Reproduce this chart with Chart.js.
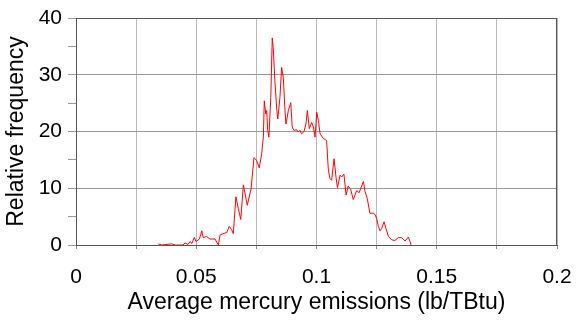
<!DOCTYPE html>
<html>
<head>
<meta charset="utf-8">
<script src="https://cdn.jsdelivr.net/npm/chart.js@4"></script>
<style>
  body { margin: 0; background: #fff; }
</style>
</head>
<body>
<canvas id="grafico" width="577" height="322"></canvas>
<script>
/* Dados */

const emissao = [
  0.0342, 0.0356, 0.0398, 0.0412, 0.0445, 0.0453, 0.0466, 0.0474, 0.0482, 0.0492,
  0.0499, 0.0513, 0.0523, 0.0529, 0.0543, 0.0557, 0.0578, 0.0592, 0.0599, 0.0612,
  0.0627, 0.0637, 0.0647, 0.0654, 0.0665, 0.0675, 0.0685, 0.0696, 0.0712, 0.0728,
  0.0740, 0.0751, 0.0762, 0.0772, 0.0779, 0.0783, 0.0789, 0.0793, 0.0797, 0.0802,
  0.0810, 0.0816, 0.0820, 0.0827, 0.0835, 0.0839, 0.0848, 0.0855, 0.0862, 0.0869,
  0.0873, 0.0883, 0.0893, 0.0899, 0.0906, 0.0918, 0.0924, 0.0931, 0.0938, 0.0948,
  0.0956, 0.0962, 0.0970, 0.0980, 0.0987, 0.0994, 0.1001, 0.1008, 0.1015, 0.1028,
  0.1042, 0.1049, 0.1056, 0.1063, 0.1073, 0.1081, 0.1087, 0.1098, 0.1105, 0.1114,
  0.1123, 0.1132, 0.1142, 0.1153, 0.1167, 0.1177, 0.1195, 0.1202, 0.1211, 0.1222,
  0.1236, 0.1243, 0.1250, 0.1257, 0.1264, 0.1271, 0.1281, 0.1289, 0.1299, 0.1313,
  0.1326, 0.1340, 0.1354, 0.1368, 0.1382, 0.1389, 0.1393
];
const frequencia = [
  0.2, 0, 0.2, 0, 0, 0.35, 0.1, 0.6, 0.3, 1.35,
  0.6, 1.05, 2.5, 1.3, 1.5, 1.05, 1.05, 0, 1.75, 2.0,
  2.2, 3.3, 2.7, 2.0, 8.5, 6.4, 4.5, 10.6, 7.0, 9.9,
  15.4, 14.9, 13.6, 16.1, 19.0, 25.4, 23.1, 23.7, 20.2, 19.0,
  26.0, 36.5, 34.8, 28.9, 23.7, 22.2, 26.0, 31.3, 29.5, 23.7,
  21.3, 23.7, 25.1, 20.8, 20.2, 20.3, 19.9, 20.2, 19.6, 20.0,
  21.3, 23.7, 20.5, 21.6, 20.8, 19.0, 23.4, 21.9, 19.6, 18.8,
  18.4, 13.4, 11.7, 11.4, 15.2, 12.0, 10.1, 12.3, 12.0, 12.5,
  8.8, 10.4, 9.8, 8.0, 9.6, 9.2, 11.2, 9.4, 8.2, 5.6,
  5.6, 5.4, 4.7, 3.3, 2.5, 2.9, 4.1, 2.9, 1.5, 0.9,
  0.8, 1.3, 1.3, 0.7, 1.4, 0.6, 0
];

const eixoX = [0, 0.05, 0.1, 0.15, 0.2];
const eixoY = [0, 10, 20, 30, 40];

/* Gráfico */

Chart.defaults.font.family = "'Liberation Sans', Arial, sans-serif";
Chart.defaults.font.size = 21;
Chart.defaults.color = "#000";

const pontos = emissao.map((x, i) => ({ x: x, y: frequencia[i] }));

// moldura de cima e da direita
const moldura = {
  id: "moldura",
  afterDatasetsDraw(chart) {
    const a = chart.chartArea;
    const ctx = chart.ctx;
    ctx.save();
    ctx.strokeStyle = "#555";
    ctx.lineWidth = 1;
    ctx.beginPath();
    ctx.moveTo(a.left, a.top + 0.5);
    ctx.lineTo(a.right - 0.5, a.top + 0.5);
    ctx.lineTo(a.right - 0.5, a.bottom);
    ctx.stroke();
    ctx.restore();
  },
};

const config = {
  type: "line",
  data: {
    datasets: [
      {
        data: pontos,
        borderColor: "rgb(255, 0, 0)",
        borderWidth: 1,
        pointRadius: 0,
        tension: 0,
        fill: false,
      },
    ],
  },
  options: {
    responsive: false,
    animation: false,
    layout: { padding: { left: 0, right: 20, top: 18, bottom: 0 } },
    plugins: {
      legend: { display: false },
      tooltip: { enabled: false },
    },
    scales: {
      x: {
        type: "linear",
        min: eixoX[0],
        max: eixoX[eixoX.length - 1],
        afterFit(scale) {
          scale.height = 77;
          scale.paddingLeft = 0;
          scale.paddingRight = 0;
        },
        ticks: {
          stepSize: 0.025,
          maxRotation: 0,
          padding: 16,
          callback: (v) => {
            const r = +v.toFixed(3);
            return eixoX.includes(r) ? String(r) : "";
          },
        },
        grid: { color: "#b8b8b8", tickColor: "#888", tickLength: 4 },
        border: { color: "#555" },
        title: {
          display: true,
          text: "Average mercury emissions (lb/TBtu)",
          font: { size: 23 },
          padding: { top: 0, bottom: 6 },
        },
      },
      y: {
        min: eixoY[0],
        max: eixoY[eixoY.length - 1],
        afterFit(scale) {
          scale.width = 76;
          scale.paddingTop = 0;
          scale.paddingBottom = 0;
        },
        ticks: {
          stepSize: 5,
          padding: 6,
          callback: (v) => (eixoY.includes(v) ? String(v) : ""),
        },
        grid: {
          color: (c) => (c.tick && c.tick.value % 10 === 0 ? "#999" : "rgba(0,0,0,0)"),
          tickColor: "#999",
          tickLength: 8,
        },
        border: { color: "#555" },
        title: {
          display: true,
          text: "Relative frequency",
          font: { size: 23 },
          padding: { top: 3, bottom: 0 },
        },
      },
    },
  },
  plugins: [moldura],
};

const meuGrafico = new Chart(document.getElementById("grafico"), config);
</script>
</body>
</html>
